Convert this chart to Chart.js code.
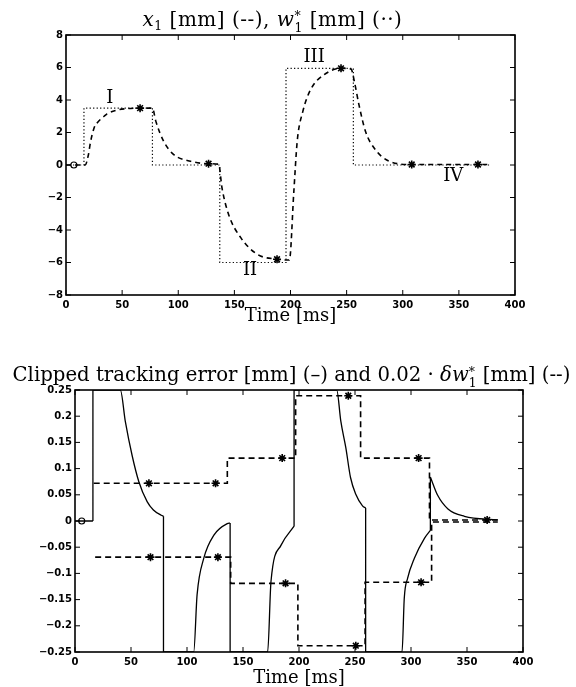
<!DOCTYPE html>
<html>
<head>
<meta charset="utf-8">
<script src="https://cdn.jsdelivr.net/npm/chart.js@4.4.0/dist/chart.umd.min.js"></script>
<style>
html, body { margin: 0; padding: 0; background: #fff; }
body { width: 576px; height: 687px; position: relative; overflow: hidden; font-family: "DejaVu Serif", serif; color: #000; }
.wrap { position: absolute; left: 0; width: 576px; }
.ttl { position: absolute; white-space: nowrap; line-height: 24px; text-align: center; }
.ss { display: inline-block; vertical-align: -0.5em; font-size: 0.62em; line-height: 0.95; text-align: left; }
.ss span { display: block; }
.sb { font-size: 0.62em; vertical-align: -0.3em; }
</style>
</head>
<body>
<div class="wrap" style="top:0;height:330px;"><canvas id="c1" width="576" height="330"></canvas></div>
<div class="wrap" style="top:340px;height:347px;"><canvas id="c2" width="576" height="347"></canvas></div>
<div class="ttl" style="left:0;width:545px;top:7px;font-size:20px;letter-spacing:0.5px;"><i>x</i><span class="sb">1</span> [mm] (--), <i>w</i><span class="ss"><span>*</span><span>1</span></span> [mm] (··)</div>
<div class="ttl" style="left:0;width:583px;top:363px;font-size:19.7px;">Clipped tracking error [mm] (–) and 0.02 · <i>δw</i><span class="ss"><span>*</span><span>1</span></span> [mm] (--)</div>
<script>
// ---- shared axis ticks ----
const timeTicks = [0, 50, 100, 150, 200, 250, 300, 350, 400];
const posTicks = [-8, -6, -4, -2, 0, 2, 4, 6, 8];
const errTicks = [-0.25, -0.2, -0.15, -0.1, -0.05, 0, 0.05, 0.1, 0.15, 0.2, 0.25];

// ---- top plot: x1 (dashed) and w1* (dotted) ----
const x1T = [0, 17, 20, 21.7, 25, 27.7, 34, 36.6, 45.5, 55, 66, 77, 80, 87, 96, 111, 127, 136,
             139, 145, 156, 170.5, 188, 199, 203, 206, 211, 218, 230, 245, 254, 257, 261, 267, 275, 287, 308, 367, 376];
const x1V = [0, 0, 0.64, 1.36, 2.28, 2.59, 3.0, 3.15, 3.38, 3.47, 3.5, 3.5, 2.7, 1.46, 0.64, 0.23, 0.08, 0.05,
             -1.42, -3.07, -4.5, -5.5, -5.8, -5.85, -1.6, 1.47, 3.3, 4.65, 5.56, 5.95, 5.9, 5.1, 3.7, 2.03, 1.0, 0.26, 0.03, 0.03, 0.03];
const wT = [0, 16, 77, 137, 196, 256, 377];
const wV = [0, 3.5, 0, -6.0, 5.95, 0, 0];
const x1StarT = [66, 127, 188, 245, 308, 367];
const x1StarV = [3.5, 0.08, -5.8, 5.95, 0.03, 0.03];
const x1CircT = [7];
const x1CircV = [0];
const romanText = ['I', 'II', 'III', 'IV'];
const romanT = [39, 164, 221, 345];
const romanV = [4.1, -6.5, 6.6, -0.7];

// ---- bottom plot: clipped tracking error (solid) and +/-0.02*dw1* (dashed) ----
// a repeated time means a vertical jump
const errT = [0, 16, 16, 40.5, 45, 51, 57, 64.4, 70, 77, 79, 79, 106, 109, 115, 124, 136, 138.5, 138.5,
              172, 175, 184, 195.6, 195.6, 233.7, 237.3, 241.8, 246, 250.7, 256.7, 259.5, 259.5,
              292, 294, 297, 303, 312, 317.3, 317.3, 323.8, 333, 347.7, 377.5];
const errV = [0, 0, 0.25, 0.25, 0.189, 0.125, 0.075, 0.037, 0.021, 0.011, 0.009, -0.25, -0.25, -0.141, -0.071, -0.027, -0.005, -0.004, -0.25,
              -0.25, -0.115, -0.046, -0.01, 0.25, 0.25, 0.191, 0.14, 0.083, 0.051, 0.029, 0.025, -0.25,
              -0.25, -0.147, -0.109, -0.071, -0.033, -0.018, 0.084, 0.049, 0.023, 0.009, 0.002];
const errCircT = [6];
const errCircV = [0];
const dPosT = [16.7, 136, 197, 255, 316.5, 377.5];
const dPosV = [0.072, 0.12, 0.239, 0.12, 0.002, 0.002];
const dNegT = [18, 139, 199, 259, 318.4, 377.5];
const dNegV = [-0.069, -0.119, -0.238, -0.117, -0.002, -0.002];
const dPosStarT = [66, 125.5, 185, 244, 306.8, 368];
const dPosStarV = [0.072, 0.072, 0.12, 0.239, 0.12, 0.002];
const dNegStarT = [67.4, 127.6, 188, 250.7, 309];
const dNegStarV = [-0.069, -0.069, -0.119, -0.238, -0.117];

const pts = (ts, vs) => ts.map((t, i) => ({ x: t, y: vs[i] }));
// split a series at vertical jumps so each smooth piece is interpolated on its own
function withJumps(ts, vs) {
    const out = [];
    for (let i = 0; i < ts.length; i++) {
        if (i > 0 && ts[i] === ts[i - 1]) {
            out.push({ x: ts[i], y: null }, { x: ts[i - 1], y: vs[i - 1] }, { x: ts[i], y: vs[i] }, { x: ts[i], y: null });
        }
        out.push({ x: ts[i], y: vs[i] });
    }
    return out;
}
const minus = v => String(v).replace('-', '\u2212');

// inward MATLAB-style ticks, box frame and text notes
const frameTicks = {
    id: 'frameTicks',
    afterDatasetsDraw(chart, args, opts) {
        const { ctx, chartArea: a, scales: { x, y } } = chart;
        ctx.save();
        ctx.strokeStyle = '#000';
        ctx.lineWidth = 1;
        ctx.beginPath();
        x.ticks.forEach(t => {
            const px = x.getPixelForValue(t.value);
            ctx.moveTo(px, a.bottom); ctx.lineTo(px, a.bottom - 5);
            ctx.moveTo(px, a.top); ctx.lineTo(px, a.top + 5);
        });
        y.ticks.forEach(t => {
            const py = y.getPixelForValue(t.value);
            ctx.moveTo(a.left, py); ctx.lineTo(a.left + 5, py);
            ctx.moveTo(a.right, py); ctx.lineTo(a.right - 5, py);
        });
        ctx.stroke();
        ctx.lineWidth = 1.6;
        ctx.strokeRect(a.left, a.top, a.width, a.height);
        const notes = opts.notes || [];
        ctx.fillStyle = '#000';
        ctx.font = '18px "DejaVu Serif"';
        ctx.textAlign = 'center';
        ctx.textBaseline = 'middle';
        notes.forEach(n => ctx.fillText(n.text, x.getPixelForValue(n.t), y.getPixelForValue(n.v)));
        ctx.restore();
    }
};

const tickFont = { family: 'DejaVu Sans', size: 10, weight: 'bold' };

function axes(yMin, yMax, yTicks, yWidth, xHeight, xPad, titlePad) {
    return {
        x: {
            type: 'linear', min: 0, max: 400,
            afterBuildTicks: s => { s.ticks = timeTicks.map(v => ({ value: v })); },
            afterFit: s => { s.height = xHeight; },
            grid: { display: false, drawTicks: false }, border: { display: false },
            ticks: { font: tickFont, color: '#000', padding: xPad, maxRotation: 0, autoSkip: false },
            title: { display: true, text: 'Time [ms]', color: '#000',
                     font: { family: 'DejaVu Serif', size: 18, lineHeight: 1 }, padding: { top: 0, bottom: titlePad } }
        },
        y: {
            min: yMin, max: yMax,
            afterBuildTicks: s => { s.ticks = yTicks.map(v => ({ value: v })); },
            afterFit: s => { s.width = yWidth; },
            grid: { display: false, drawTicks: false }, border: { display: false },
            ticks: { font: tickFont, color: '#000', padding: 3, callback: minus, autoSkip: false }
        }
    };
}

const common = {
    responsive: false, animation: false, events: [],
    elements: { point: { radius: 0 } },
    plugins: { legend: { display: false }, tooltip: { enabled: false } }
};

new Chart(document.getElementById('c1'), {
    type: 'line',
    data: {
        datasets: [
            { data: pts(wT, wV), stepped: true, borderColor: '#000', borderWidth: 1.2, borderDash: [1.2, 2.3], pointRadius: 0 },
            { data: pts(x1T, x1V), cubicInterpolationMode: 'monotone', borderColor: '#000', borderWidth: 1.6, borderDash: [5, 4], pointRadius: 0 },
            { data: pts(x1StarT, x1StarV), showLine: false, pointStyle: 'star', pointRadius: 4, borderColor: '#000', borderWidth: 1.6 },
            { data: pts(x1CircT, x1CircV), showLine: false, pointStyle: 'circle', pointRadius: 3, borderColor: '#000', backgroundColor: '#fff', borderWidth: 1.2 }
        ]
    },
    options: {
        ...common,
        layout: { padding: { left: 0, right: 61, top: 35, bottom: 0 } },
        scales: axes(-8, 8, posTicks, 66, 35, 4, 5),
        plugins: { ...common.plugins, frameTicks: { notes: romanText.map((s, i) => ({ text: s, t: romanT[i], v: romanV[i] })) } }
    },
    plugins: [frameTicks]
});

new Chart(document.getElementById('c2'), {
    type: 'line',
    data: {
        datasets: [
            { data: withJumps(errT, errV), cubicInterpolationMode: 'monotone', borderColor: '#000', borderWidth: 1.3, pointRadius: 0 },
            { data: pts(dPosT, dPosV), stepped: true, borderColor: '#000', borderWidth: 1.6, borderDash: [6, 4], pointRadius: 0 },
            { data: pts(dNegT, dNegV), stepped: true, borderColor: '#000', borderWidth: 1.6, borderDash: [6, 4], pointRadius: 0 },
            { data: pts(dPosStarT, dPosStarV), showLine: false, pointStyle: 'star', pointRadius: 4, borderColor: '#000', borderWidth: 1.6 },
            { data: pts(dNegStarT, dNegStarV), showLine: false, pointStyle: 'star', pointRadius: 4, borderColor: '#000', borderWidth: 1.6 },
            { data: pts(errCircT, errCircV), showLine: false, pointStyle: 'circle', pointRadius: 3, borderColor: '#000', backgroundColor: '#fff', borderWidth: 1.2 }
        ]
    },
    options: {
        ...common,
        layout: { padding: { left: 0, right: 53, top: 50, bottom: 0 } },
        scales: axes(-0.25, 0.25, errTicks, 75, 35, 4, 0),
        plugins: { ...common.plugins, frameTicks: { notes: [] } }
    },
    plugins: [frameTicks]
});
</script>
</body>
</html>
